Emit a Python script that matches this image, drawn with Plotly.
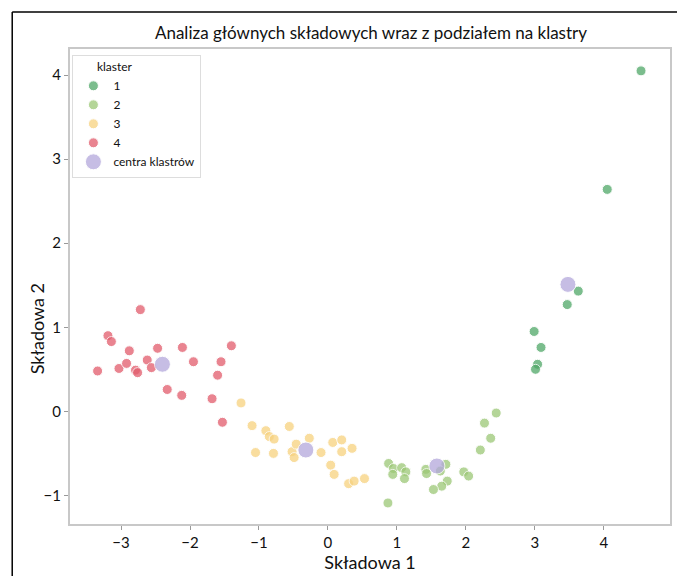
import plotly.graph_objects as go

# Cluster 1
c1_x = [4.54, 4.05, 3.63, 3.47, 2.99, 3.09, 3.04, 3.01]
c1_y = [4.05, 2.64, 1.43, 1.27, 0.95, 0.76, 0.56, 0.50]
# Cluster 2
c2_x = [2.44, 2.27, 2.36, 2.21, 0.88, 0.95, 1.07, 0.94, 1.13, 1.11, 1.42, 1.43,
        1.71, 1.63, 1.97, 2.04, 1.73, 1.65, 1.53, 0.87]
c2_y = [-0.02, -0.14, -0.32, -0.46, -0.62, -0.68, -0.67, -0.75, -0.72, -0.80, -0.69, -0.74,
        -0.63, -0.71, -0.72, -0.77, -0.83, -0.89, -0.93, -1.09]
# Cluster 3
c3_x = [-1.26, -1.10, -0.90, -0.85, -0.78, -0.56, -1.05, -0.79, -0.52, -0.49, -0.46,
        -0.27, -0.10, 0.07, 0.20, 0.20, 0.35, 0.04, 0.09, 0.30, 0.38, 0.53]
c3_y = [0.10, -0.17, -0.23, -0.30, -0.33, -0.18, -0.49, -0.50, -0.48, -0.55, -0.39,
        -0.32, -0.49, -0.37, -0.34, -0.48, -0.44, -0.64, -0.75, -0.86, -0.83, -0.80]
# Cluster 4
c4_x = [-2.72, -3.19, -3.14, -2.88, -2.47, -2.11, -1.40, -3.34, -3.03, -2.92, -2.79,
        -2.76, -2.62, -2.56, -1.95, -1.55, -1.60, -2.33, -2.12, -1.68, -1.53]
c4_y = [1.21, 0.90, 0.83, 0.72, 0.75, 0.76, 0.78, 0.48, 0.51, 0.57, 0.49,
        0.46, 0.61, 0.52, 0.59, 0.59, 0.43, 0.26, 0.19, 0.15, -0.13]
# Cluster centres
cent_x = [3.48, 1.58, -0.32, -2.40]
cent_y = [1.51, -0.65, -0.46, 0.56]

cluster_names = ["1", "2", "3", "4"]
cluster_colors = ["#4fa867", "#9cc876", "#f7d27e", "#e25c6c"]
center_name = "centra klastrów"
center_color = "#b3a8dc"

FONT = "Lato, 'Open Sans', sans-serif"

fig = go.Figure()
for name, xs, ys, col in zip(cluster_names, [c1_x, c2_x, c3_x, c4_x],
                             [c1_y, c2_y, c3_y, c4_y], cluster_colors):
    fig.add_trace(go.Scatter(
        x=xs, y=ys, mode="markers", name=name,
        marker=dict(size=10, color=col, opacity=0.75,
                    line=dict(color="white", width=1)),
    ))
fig.add_trace(go.Scatter(
    x=cent_x, y=cent_y, mode="markers", name=center_name,
    marker=dict(size=16, color=center_color, opacity=0.75,
                line=dict(color="white", width=1)),
))

fig.update_layout(
    width=677, height=576,
    margin=dict(l=70, r=5, t=49, b=52),
    paper_bgcolor="white", plot_bgcolor="white",
    font=dict(family=FONT, color="#111111"),
    title=dict(text="Analiza głównych składowych wraz z podziałem na klastry",
               x=0.548, xanchor="center", y=0.942, yanchor="middle",
               font=dict(size=17, family=FONT, color="#111111")),
    legend=dict(
        title=dict(text="       klaster", font=dict(size=12)),
        x=0.004, y=0.988, xanchor="left", yanchor="top",
        bgcolor="rgba(255,255,255,0.9)", bordercolor="#dddddd", borderwidth=1,
        font=dict(size=12, family=FONT), itemsizing="trace", tracegroupgap=0,
        itemwidth=30,
    ),
    showlegend=True,
    annotations=[dict(
        text="Składowa 2", xref="paper", yref="paper",
        x=-0.0548, y=0.41, xanchor="center", yanchor="middle",
        textangle=-90, showarrow=False,
        font=dict(size=18, family=FONT, color="#111111"),
    )],
)
fig.update_xaxes(
    range=[-3.74, 4.96], tickvals=[-3, -2, -1, 0, 1, 2, 3, 4],
    ticktext=["\u22123", "\u22122", "\u22121", "0", "1", "2", "3", "4"],
    showgrid=False, zeroline=False,
    showline=True, linecolor="#c8c8c8", linewidth=2, mirror=True,
    ticks="outside", ticklen=4, tickcolor="#999999",
    tickfont=dict(size=15, family=FONT),
    title=dict(text="Składowa 1", font=dict(size=18, family=FONT), standoff=6),
)
fig.update_yaxes(
    range=[-1.34, 4.31], tickvals=[-1, 0, 1, 2, 3, 4],
    ticktext=["\u22121", "0", "1", "2", "3", "4"],
    showgrid=False, zeroline=False,
    showline=True, linecolor="#c8c8c8", linewidth=2, mirror=True,
    ticks="outside", ticklen=4, tickcolor="#999999",
    tickfont=dict(size=15, family=FONT),
)

# outer frame (top and left lines)
fig.add_shape(type="line", xref="paper", yref="paper",
              x0=-0.0963, x1=1.05, y0=1.0779, y1=1.0779,
              line=dict(color="black", width=1.5))
fig.add_shape(type="line", xref="paper", yref="paper",
              x0=-0.0963, x1=-0.0963, y0=1.0779, y1=-0.2,
              line=dict(color="black", width=1.5))

fig.write_html("out.html", config={"displayModeBar": False},
               post_script="document.body.style.margin='0';document.body.style.overflow='hidden';")
